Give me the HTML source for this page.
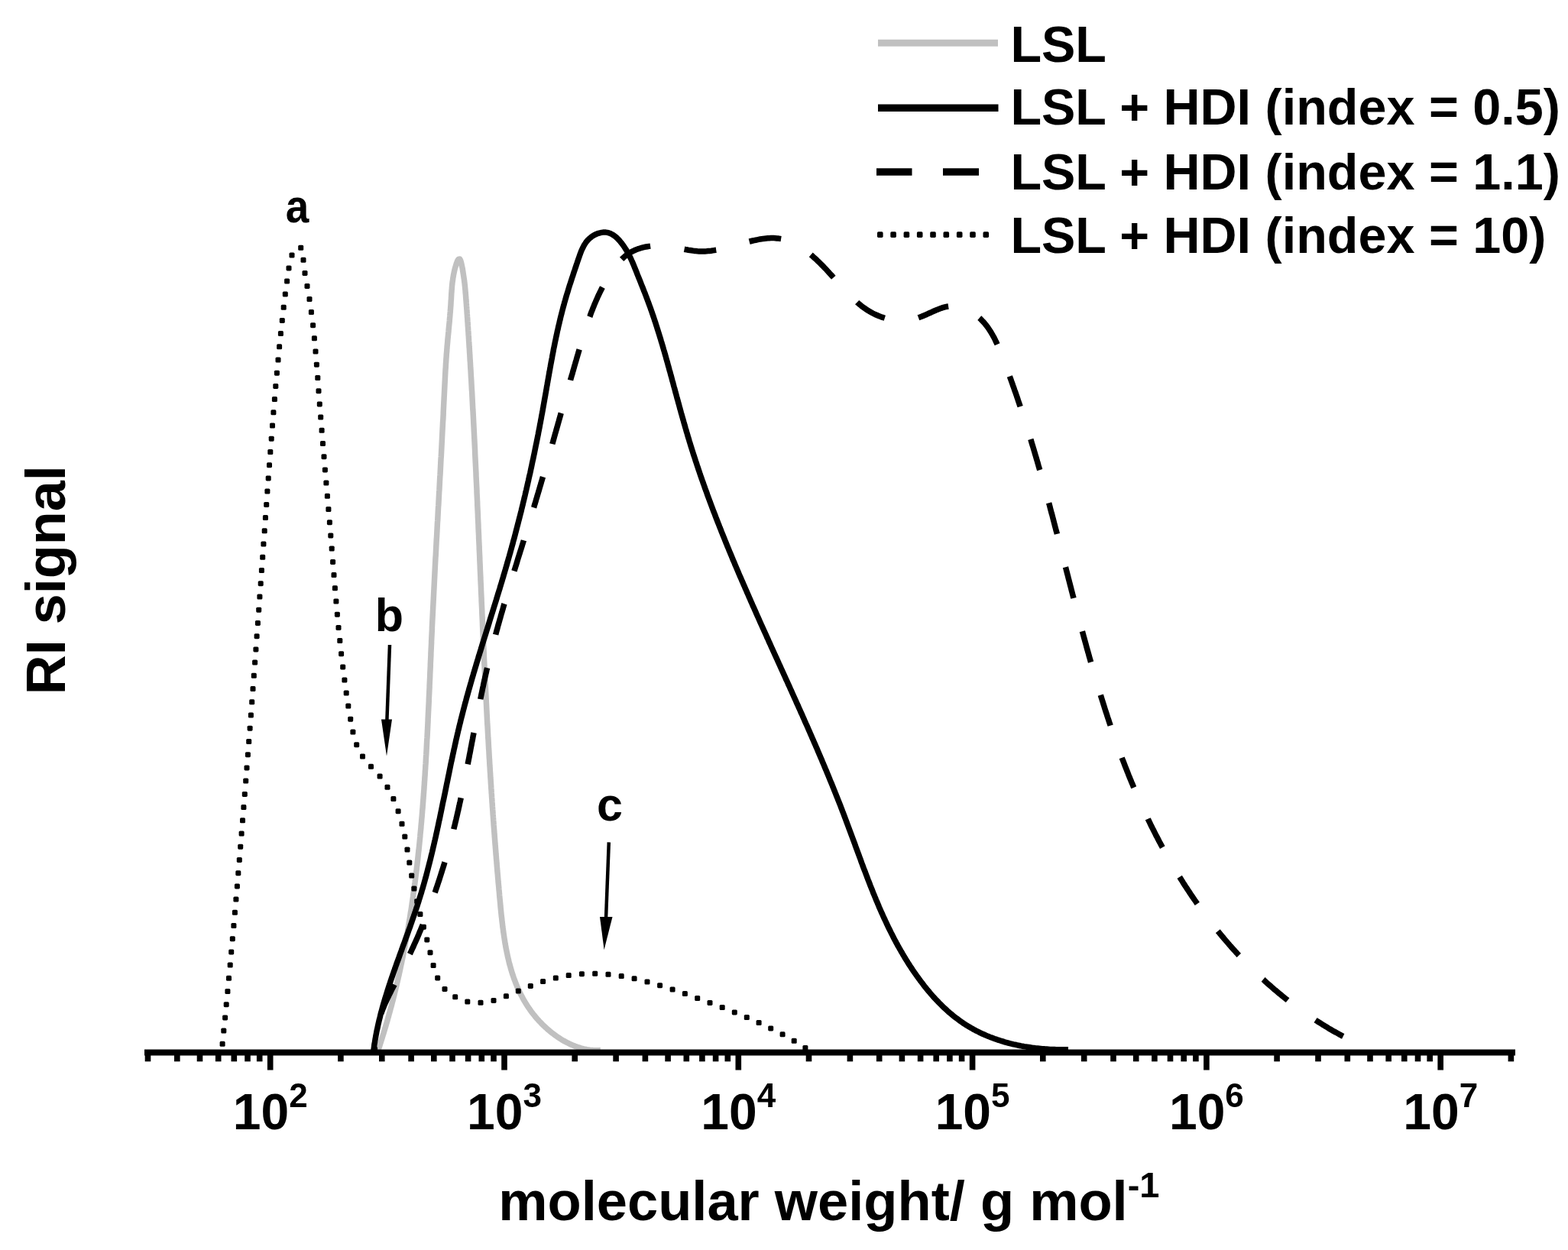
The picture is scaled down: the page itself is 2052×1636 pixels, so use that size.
<!DOCTYPE html>
<html><head><meta charset="utf-8"><title>RI signal vs molecular weight</title>
<style>html,body{margin:0;padding:0;background:#fff;}svg{display:block;}</style>
</head><body>
<svg width="2052" height="1636" viewBox="0 0 2052 1636">
<rect width="2052" height="1636" fill="#fff"/>
<g font-family="'Liberation Sans', Arial, Helvetica, sans-serif" font-weight="bold" fill="#000">
<line x1="1149" y1="56.2" x2="1306" y2="56.2" stroke="#c0c0c0" stroke-width="9"/>
<line x1="1149" y1="141.3" x2="1306.5" y2="141.3" stroke="#000" stroke-width="9.5"/>
<path d="M1147 225 H1193.5 M1234 225 H1281" stroke="#000" stroke-width="9.5"/>
<g><rect x="1148.0" y="303.3" width="7.6" height="7.6" rx="1.6"/><rect x="1165.3" y="303.3" width="7.6" height="7.6" rx="1.6"/><rect x="1182.6" y="303.3" width="7.6" height="7.6" rx="1.6"/><rect x="1199.9" y="303.3" width="7.6" height="7.6" rx="1.6"/><rect x="1217.2" y="303.3" width="7.6" height="7.6" rx="1.6"/><rect x="1234.5" y="303.3" width="7.6" height="7.6" rx="1.6"/><rect x="1251.9" y="303.3" width="7.6" height="7.6" rx="1.6"/><rect x="1269.2" y="303.3" width="7.6" height="7.6" rx="1.6"/><rect x="1286.5" y="303.3" width="7.6" height="7.6" rx="1.6"/></g>
<text x="1322.4" y="80.5" font-size="66.5">LSL</text>
<text x="1322.4" y="163" font-size="66.5">LSL + HDI (index = 0.5)</text>
<text x="1322.4" y="247.5" font-size="66.5">LSL + HDI (index = 1.1)</text>
<text x="1322.4" y="330.5" font-size="66.5">LSL + HDI (index = 10)</text>
<g fill="none" stroke-linejoin="round">
<path d="M494.1 1377.1 L494.7 1375.2 495.3 1373.3 495.9 1371.4 496.6 1369.5 497.2 1367.6 497.8 1365.7 498.4 1363.8 499.0 1361.9 499.6 1360.0 500.2 1358.1 500.8 1356.2 501.4 1354.2 502.0 1352.3 502.6 1350.4 503.1 1348.5 503.7 1346.6 504.3 1344.7 504.9 1342.7 505.4 1340.8 506.0 1338.9 506.5 1337.0 507.1 1335.1 507.6 1333.1 508.2 1331.2 508.7 1329.3 509.2 1327.4 509.8 1325.4 510.3 1323.5 510.8 1321.6 511.3 1319.6 511.9 1317.7 512.4 1315.8 512.9 1313.8 513.4 1311.9 513.9 1310.0 514.4 1308.0 514.9 1306.1 515.4 1304.1 515.9 1302.2 516.3 1300.2 516.8 1298.3 517.3 1296.4 517.8 1294.4 518.2 1292.5 518.7 1290.5 519.2 1288.6 519.6 1286.6 520.1 1284.7 520.5 1282.7 521.0 1280.8 521.4 1278.8 521.9 1276.9 522.3 1274.9 522.7 1273.0 523.2 1271.0 523.6 1269.1 524.0 1267.1 524.4 1265.2 524.8 1263.2 525.3 1261.2 525.7 1259.3 526.1 1257.3 526.5 1255.4 526.9 1253.4 527.3 1251.4 527.7 1249.5 528.1 1247.5 528.4 1245.5 528.8 1243.6 529.2 1241.6 529.6 1239.7 530.0 1237.7 530.3 1235.7 530.7 1233.8 531.1 1231.8 531.4 1229.8 531.8 1227.9 532.1 1225.9 532.5 1223.9 532.9 1221.9 533.2 1220.0 533.5 1218.0 533.9 1216.0 534.2 1214.1 534.6 1212.1 534.9 1210.1 535.2 1208.1 535.5 1206.2 535.9 1204.2 536.2 1202.2 536.5 1200.2 536.8 1198.3 537.1 1196.3 537.4 1194.3 537.8 1192.3 538.1 1190.4 538.4 1188.4 538.7 1186.4 539.0 1184.4 539.2 1182.4 539.5 1180.5 539.8 1178.5 540.1 1176.5 540.4 1174.5 540.7 1172.5 540.9 1170.6 541.2 1168.6 541.5 1166.6 541.8 1164.6 542.0 1162.6 542.3 1160.6 542.6 1158.7 542.8 1156.7 543.1 1154.7 543.3 1152.7 543.6 1150.7 543.8 1148.7 544.1 1146.7 544.3 1144.8 544.6 1142.8 544.8 1140.8 545.1 1138.8 545.3 1136.8 545.5 1134.8 545.8 1132.8 546.0 1130.8 546.2 1128.9 546.4 1126.9 546.7 1124.9 546.9 1122.9 547.1 1120.9 547.3 1118.9 547.5 1116.9 547.7 1114.9 548.0 1112.9 548.2 1111.0 548.4 1109.0 548.6 1107.0 548.8 1105.0 549.0 1103.0 549.2 1101.0 549.4 1099.0 549.6 1097.0 549.8 1095.0 549.9 1093.0 550.1 1091.0 550.3 1089.0 550.5 1087.1 550.7 1085.1 550.9 1083.1 551.0 1081.1 551.2 1079.1 551.4 1077.1 551.6 1075.1 551.7 1073.1 551.9 1071.1 552.1 1069.1 552.3 1067.1 552.4 1065.1 552.6 1063.1 552.7 1061.1 552.9 1059.1 553.1 1057.1 553.2 1055.2 553.4 1053.2 553.5 1051.2 553.7 1049.2 553.8 1047.2 554.0 1045.2 554.1 1043.2 554.3 1041.2 554.4 1039.2 554.6 1037.2 554.7 1035.2 554.9 1033.2 555.0 1031.2 555.1 1029.2 555.3 1027.2 555.4 1025.2 555.5 1023.2 555.7 1021.2 555.8 1019.2 555.9 1017.2 556.1 1015.2 556.2 1013.2 556.3 1011.2 556.4 1009.2 556.6 1007.2 556.7 1005.2 556.8 1003.3 556.9 1001.3 557.1 999.3 557.2 997.3 557.3 995.3 557.4 993.3 557.5 991.3 557.6 989.3 557.8 987.3 557.9 985.3 558.0 983.3 558.1 981.3 558.2 979.3 558.3 977.3 558.4 975.3 558.5 973.3 558.6 971.3 558.7 969.3 558.8 967.3 559.0 965.3 559.1 963.3 559.2 961.3 559.3 959.3 559.4 957.3 559.5 955.3 559.6 953.3 559.7 951.3 559.8 949.3 559.9 947.3 560.0 945.3 560.1 943.3 560.1 941.3 560.2 939.3 560.3 937.3 560.4 935.3 560.5 933.3 560.6 931.3 560.7 929.3 560.8 927.3 560.9 925.3 561.0 923.3 561.1 921.3 561.2 919.3 561.3 917.3 561.3 915.3 561.4 913.3 561.5 911.3 561.6 909.3 561.7 907.3 561.8 905.3 561.9 903.3 562.0 901.3 562.1 899.3 562.1 897.3 562.2 895.3 562.3 893.3 562.4 891.3 562.5 889.3 562.6 887.3 562.7 885.3 562.7 883.3 562.8 881.3 562.9 879.3 563.0 877.3 563.1 875.3 563.2 873.3 563.3 871.3 563.3 869.3 563.4 867.3 563.5 865.3 563.6 863.3 563.7 861.3 563.8 859.3 563.9 857.3 563.9 855.3 564.0 853.3 564.1 851.3 564.2 849.3 564.3 847.3 564.4 845.3 564.5 843.3 564.6 841.3 564.6 839.3 564.7 837.3 564.8 835.3 564.9 833.3 565.0 831.4 565.1 829.4 565.2 827.4 565.3 825.4 565.4 823.4 565.4 821.4 565.5 819.4 565.6 817.4 565.7 815.4 565.8 813.4 565.9 811.4 566.0 809.4 566.1 807.4 566.2 805.4 566.3 803.4 566.4 801.4 566.5 799.4 566.6 797.4 566.7 795.4 566.8 793.4 566.9 791.4 567.0 789.4 567.1 787.4 567.2 785.4 567.3 783.4 567.4 781.4 567.5 779.4 567.6 777.4 567.7 775.4 567.8 773.4 567.9 771.4 568.0 769.4 568.1 767.4 568.2 765.4 568.3 763.4 568.4 761.4 568.5 759.4 568.6 757.4 568.7 755.4 568.8 753.4 568.9 751.4 569.0 749.4 569.1 747.4 569.2 745.4 569.3 743.4 569.4 741.4 569.5 739.4 569.6 737.4 569.7 735.4 569.8 733.4 569.9 731.4 570.0 729.4 570.2 727.4 570.3 725.4 570.4 723.4 570.5 721.4 570.6 719.4 570.7 717.4 570.8 715.4 570.9 713.4 571.0 711.4 571.1 709.4 571.2 707.4 571.3 705.4 571.5 703.4 571.6 701.4 571.7 699.4 571.8 697.4 571.9 695.5 572.0 693.5 572.1 691.5 572.2 689.5 572.3 687.5 572.4 685.5 572.5 683.5 572.7 681.5 572.8 679.5 572.9 677.5 573.0 675.5 573.1 673.5 573.2 671.5 573.3 669.5 573.4 667.5 573.5 665.5 573.6 663.5 573.8 661.5 573.9 659.5 574.0 657.5 574.1 655.5 574.2 653.5 574.3 651.5 574.4 649.5 574.5 647.5 574.6 645.5 574.7 643.5 574.9 641.5 575.0 639.5 575.1 637.5 575.2 635.5 575.3 633.5 575.4 631.5 575.5 629.5 575.6 627.5 575.7 625.5 575.8 623.5 576.0 621.5 576.1 619.5 576.2 617.5 576.3 615.5 576.4 613.5 576.5 611.5 576.6 609.5 576.7 607.5 576.8 605.5 576.9 603.5 577.0 601.5 577.1 599.5 577.3 597.5 577.4 595.5 577.5 593.5 577.6 591.5 577.7 589.5 577.8 587.6 577.9 585.6 578.0 583.6 578.1 581.6 578.2 579.6 578.3 577.6 578.4 575.6 578.5 573.6 578.6 571.6 578.7 569.6 578.8 567.6 578.9 565.6 579.0 563.6 579.1 561.6 579.2 559.6 579.3 557.6 579.4 555.6 579.5 553.6 579.6 551.6 579.8 549.6 579.9 547.6 580.0 545.6 580.1 543.6 580.2 541.6 580.2 539.6 580.3 537.6 580.4 535.6 580.5 533.6 580.6 531.6 580.7 529.6 580.8 527.6 580.9 525.6 581.0 523.6 581.1 521.6 581.2 519.6 581.3 517.6 581.4 515.6 581.5 513.6 581.6 511.6 581.7 509.6 581.8 507.6 581.9 505.6 582.0 503.6 582.1 501.6 582.2 499.6 582.3 497.6 582.4 495.6 582.5 493.6 582.6 491.6 582.7 489.6 582.8 487.6 582.9 485.6 583.0 483.6 583.2 481.6 583.3 479.6 583.4 477.6 583.5 475.6 583.7 473.6 583.8 471.6 583.9 469.6 584.1 467.6 584.2 465.7 584.3 463.7 584.5 461.7 584.7 459.7 584.8 457.7 585.0 455.7 585.1 453.7 585.3 451.7 585.5 449.7 585.7 447.7 585.8 445.7 586.0 443.7 586.2 441.7 586.4 439.7 586.6 437.7 586.8 435.7 587.0 433.8 587.1 431.8 587.3 429.8 587.5 427.8 587.7 425.8 587.9 423.8 588.1 421.8 588.3 419.8 588.4 417.8 588.6 415.8 588.8 413.8 588.9 411.8 589.1 409.8 589.3 407.8 589.4 405.8 589.6 403.9 589.7 401.9 589.9 399.9 590.0 397.9 590.1 395.9 590.2 393.9 590.4 391.9 590.5 389.9 590.6 387.9 590.7 385.9 590.8 383.9 591.0 381.9 591.1 379.9 591.3 377.9 591.4 375.9 591.6 373.9 591.8 371.9 592.0 369.9 592.3 367.9 592.6 366.0 592.8 364.0 593.2 362.0 593.5 360.0 593.9 358.1 594.3 356.1 594.7 354.2 595.2 352.2 595.7 350.3 596.3 348.4 596.9 346.4 597.5 344.5 598.2 342.7 599.0 340.8 600.1 339.2 601.8 339.1 602.7 340.9 603.3 342.8 603.8 344.8 604.2 346.7 604.6 348.7 605.0 350.6 605.4 352.6 605.7 354.6 606.0 356.6 606.3 358.5 606.6 360.5 606.9 362.5 607.2 364.5 607.5 366.5 607.7 368.4 608.0 370.4 608.2 372.4 608.4 374.4 608.6 376.4 608.8 378.4 609.0 380.4 609.1 382.4 609.3 384.4 609.5 386.4 609.6 388.4 609.8 390.4 609.9 392.4 610.1 394.3 610.2 396.3 610.4 398.3 610.5 400.3 610.7 402.3 610.8 404.3 611.0 406.3 611.1 408.3 611.2 410.3 611.4 412.3 611.5 414.3 611.7 416.3 611.8 418.3 611.9 420.3 612.1 422.3 612.2 424.3 612.3 426.3 612.5 428.3 612.6 430.3 612.7 432.3 612.9 434.3 613.0 436.3 613.1 438.3 613.3 440.3 613.4 442.3 613.5 444.3 613.6 446.3 613.8 448.3 613.9 450.3 614.0 452.2 614.1 454.2 614.3 456.2 614.4 458.2 614.5 460.2 614.6 462.2 614.8 464.2 614.9 466.2 615.0 468.2 615.1 470.2 615.2 472.2 615.4 474.2 615.5 476.2 615.6 478.2 615.7 480.2 615.8 482.2 616.0 484.2 616.1 486.2 616.2 488.2 616.3 490.2 616.4 492.2 616.5 494.2 616.7 496.2 616.8 498.2 616.9 500.2 617.0 502.2 617.1 504.2 617.2 506.2 617.3 508.2 617.4 510.2 617.6 512.2 617.7 514.2 617.8 516.2 617.9 518.2 618.0 520.2 618.1 522.2 618.2 524.2 618.3 526.2 618.4 528.2 618.5 530.2 618.6 532.2 618.7 534.2 618.8 536.2 619.0 538.2 619.1 540.2 619.2 542.2 619.3 544.1 619.4 546.1 619.5 548.1 619.6 550.1 619.7 552.1 619.8 554.1 619.9 556.1 620.0 558.1 620.1 560.1 620.2 562.1 620.3 564.1 620.4 566.1 620.5 568.1 620.6 570.1 620.7 572.1 620.8 574.1 620.9 576.1 621.0 578.1 621.1 580.1 621.2 582.1 621.3 584.1 621.4 586.1 621.5 588.1 621.6 590.1 621.6 592.1 621.7 594.1 621.8 596.1 621.9 598.1 622.0 600.1 622.1 602.1 622.2 604.1 622.3 606.1 622.4 608.1 622.5 610.1 622.6 612.1 622.7 614.1 622.8 616.1 622.9 618.1 623.0 620.1 623.0 622.1 623.1 624.1 623.2 626.1 623.3 628.1 623.4 630.1 623.5 632.1 623.6 634.1 623.7 636.1 623.8 638.1 623.9 640.1 624.0 642.1 624.0 644.1 624.1 646.1 624.2 648.1 624.3 650.1 624.4 652.1 624.5 654.1 624.6 656.1 624.7 658.1 624.7 660.1 624.8 662.1 624.9 664.1 625.0 666.1 625.1 668.1 625.2 670.1 625.3 672.1 625.4 674.1 625.4 676.1 625.5 678.1 625.6 680.1 625.7 682.1 625.8 684.1 625.9 686.1 626.0 688.1 626.0 690.1 626.1 692.1 626.2 694.1 626.3 696.1 626.4 698.1 626.5 700.1 626.6 702.1 626.6 704.1 626.7 706.1 626.8 708.1 626.9 710.1 627.0 712.1 627.1 714.1 627.2 716.1 627.2 718.1 627.3 720.1 627.4 722.1 627.5 724.1 627.6 726.1 627.7 728.1 627.8 730.1 627.8 732.1 627.9 734.1 628.0 736.1 628.1 738.1 628.2 740.1 628.3 742.1 628.3 744.1 628.4 746.1 628.5 748.1 628.6 750.1 628.7 752.1 628.8 754.0 628.9 756.0 628.9 758.0 629.0 760.0 629.1 762.0 629.2 764.0 629.3 766.0 629.4 768.0 629.5 770.0 629.5 772.0 629.6 774.0 629.7 776.0 629.8 778.0 629.9 780.0 630.0 782.0 630.1 784.0 630.1 786.0 630.2 788.0 630.3 790.0 630.4 792.0 630.5 794.0 630.6 796.0 630.7 798.0 630.8 800.0 630.8 802.0 630.9 804.0 631.0 806.0 631.1 808.0 631.2 810.0 631.3 812.0 631.4 814.0 631.5 816.0 631.5 818.0 631.6 820.0 631.7 822.0 631.8 824.0 631.9 826.0 632.0 828.0 632.1 830.0 632.2 832.0 632.3 834.0 632.3 836.0 632.4 838.0 632.5 840.0 632.6 842.0 632.7 844.0 632.8 846.0 632.9 848.0 633.0 850.0 633.1 852.0 633.2 854.0 633.3 856.0 633.3 858.0 633.4 860.0 633.5 862.0 633.6 864.0 633.7 866.0 633.8 868.0 633.9 870.0 634.0 872.0 634.1 874.0 634.2 876.0 634.3 878.0 634.4 880.0 634.5 882.0 634.6 884.0 634.7 886.0 634.8 888.0 634.9 890.0 635.0 892.0 635.1 894.0 635.2 896.0 635.3 898.0 635.4 900.0 635.5 902.0 635.6 904.0 635.7 906.0 635.8 908.0 635.9 910.0 636.0 912.0 636.1 914.0 636.2 916.0 636.3 918.0 636.4 920.0 636.5 922.0 636.6 924.0 636.7 926.0 636.8 928.0 636.9 930.0 637.0 932.0 637.1 934.0 637.2 936.0 637.3 938.0 637.4 940.0 637.5 942.0 637.6 943.9 637.7 945.9 637.8 947.9 638.0 949.9 638.1 951.9 638.2 953.9 638.3 955.9 638.4 957.9 638.5 959.9 638.6 961.9 638.7 963.9 638.8 965.9 639.0 967.9 639.1 969.9 639.2 971.9 639.3 973.9 639.4 975.9 639.5 977.9 639.6 979.9 639.8 981.9 639.9 983.9 640.0 985.9 640.1 987.9 640.2 989.9 640.3 991.9 640.5 993.9 640.6 995.9 640.7 997.9 640.8 999.9 640.9 1001.9 641.1 1003.9 641.2 1005.9 641.3 1007.9 641.4 1009.9 641.6 1011.9 641.7 1013.9 641.8 1015.9 641.9 1017.9 642.1 1019.9 642.2 1021.9 642.3 1023.9 642.4 1025.9 642.6 1027.8 642.7 1029.8 642.8 1031.8 643.0 1033.8 643.1 1035.8 643.2 1037.8 643.4 1039.8 643.5 1041.8 643.6 1043.8 643.8 1045.8 643.9 1047.8 644.0 1049.8 644.2 1051.8 644.3 1053.8 644.4 1055.8 644.6 1057.8 644.7 1059.8 644.9 1061.8 645.0 1063.8 645.1 1065.8 645.3 1067.8 645.4 1069.8 645.6 1071.8 645.7 1073.8 645.9 1075.8 646.0 1077.8 646.1 1079.8 646.3 1081.8 646.4 1083.7 646.6 1085.7 646.7 1087.7 646.9 1089.7 647.0 1091.7 647.2 1093.7 647.3 1095.7 647.5 1097.7 647.6 1099.7 647.8 1101.7 647.9 1103.7 648.1 1105.7 648.3 1107.7 648.4 1109.7 648.6 1111.7 648.7 1113.7 648.9 1115.7 649.0 1117.7 649.2 1119.7 649.4 1121.7 649.5 1123.7 649.7 1125.6 649.9 1127.6 650.0 1129.6 650.2 1131.6 650.3 1133.6 650.5 1135.6 650.7 1137.6 650.8 1139.6 651.0 1141.6 651.2 1143.6 651.4 1145.6 651.5 1147.6 651.7 1149.6 651.9 1151.6 652.0 1153.6 652.2 1155.6 652.4 1157.5 652.6 1159.5 652.8 1161.5 652.9 1163.5 653.1 1165.5 653.3 1167.5 653.5 1169.5 653.6 1171.5 653.8 1173.5 654.0 1175.5 654.2 1177.5 654.4 1179.5 654.6 1181.5 654.8 1183.5 654.9 1185.4 655.1 1187.4 655.3 1189.4 655.5 1191.4 655.7 1193.4 655.9 1195.4 656.1 1197.4 656.3 1199.4 656.6 1201.4 656.8 1203.4 657.0 1205.4 657.2 1207.3 657.5 1209.3 657.7 1211.3 657.9 1213.3 658.2 1215.3 658.5 1217.3 658.7 1219.3 659.0 1221.2 659.3 1223.2 659.6 1225.2 659.9 1227.2 660.2 1229.2 660.5 1231.1 660.8 1233.1 661.1 1235.1 661.5 1237.0 661.8 1239.0 662.2 1241.0 662.6 1243.0 663.0 1244.9 663.4 1246.9 663.8 1248.8 664.2 1250.8 664.6 1252.7 665.1 1254.7 665.6 1256.6 666.0 1258.6 666.5 1260.5 667.0 1262.5 667.6 1264.4 668.1 1266.3 668.6 1268.2 669.2 1270.2 669.8 1272.1 670.4 1274.0 671.0 1275.9 671.7 1277.8 672.3 1279.7 673.0 1281.6 673.7 1283.4 674.4 1285.3 675.1 1287.2 675.9 1289.0 676.6 1290.9 677.4 1292.7 678.2 1294.5 679.1 1296.4 679.9 1298.2 680.8 1300.0 681.7 1301.8 682.6 1303.5 683.6 1305.3 684.5 1307.1 685.5 1308.8 686.5 1310.5 687.5 1312.3 688.6 1314.0 689.6 1315.7 690.7 1317.3 691.8 1319.0 693.0 1320.6 694.1 1322.3 695.3 1323.9 696.5 1325.5 697.7 1327.1 699.0 1328.6 700.2 1330.2 701.5 1331.7 702.8 1333.2 704.2 1334.7 705.5 1336.2 706.9 1337.7 708.3 1339.1 709.7 1340.6 711.1 1342.0 712.5 1343.3 714.0 1344.7 715.5 1346.0 717.0 1347.4 718.5 1348.7 720.0 1350.0 721.6 1351.2 723.2 1352.4 724.8 1353.7 726.4 1354.8 728.0 1356.0 729.6 1357.1 731.3 1358.3 733.0 1359.3 734.7 1360.4 736.4 1361.4 738.1 1362.4 739.9 1363.4 741.7 1364.3 743.4 1365.2 745.2 1366.1 747.1 1367.0 748.9 1367.8 750.7 1368.5 752.6 1369.3 754.5 1369.9 756.4 1370.6 758.3 1371.2 760.2 1371.8 762.1 1372.3 764.1 1372.8 766.0 1373.2 768.0 1373.6 770.0 1373.9 771.9 1374.2 773.9 1374.4 775.9 1374.6 777.9 1374.7 779.9 1374.8 781.9 1374.8 783.9 1374.7 785.9 1374.6" stroke="#c0c0c0" stroke-width="7.5"/>
<path d="M488.8 1375.9 L489.0 1373.9 489.3 1371.9 489.6 1369.9 489.8 1367.9 490.1 1365.9 490.5 1364.0 490.8 1362.0 491.1 1360.0 491.5 1358.0 491.8 1356.1 492.2 1354.1 492.6 1352.1 492.9 1350.2 493.3 1348.2 493.8 1346.3 494.2 1344.3 494.6 1342.3 495.0 1340.4 495.5 1338.4 495.9 1336.5 496.4 1334.5 496.9 1332.6 497.4 1330.7 497.8 1328.7 498.3 1326.8 498.8 1324.8 499.4 1322.9 499.9 1321.0 500.4 1319.0 500.9 1317.1 501.5 1315.2 502.0 1313.3 502.6 1311.3 503.2 1309.4 503.7 1307.5 504.3 1305.6 504.9 1303.7 505.5 1301.8 506.1 1299.8 506.7 1297.9 507.3 1296.0 507.9 1294.1 508.5 1292.2 509.1 1290.3 509.7 1288.4 510.4 1286.5 511.0 1284.6 511.6 1282.7 512.3 1280.8 512.9 1278.9 513.6 1277.0 514.2 1275.1 514.9 1273.2 515.5 1271.3 516.2 1269.5 516.9 1267.6 517.5 1265.7 518.2 1263.8 518.9 1261.9 519.5 1260.0 520.2 1258.1 520.9 1256.3 521.6 1254.4 522.3 1252.5 522.9 1250.6 523.6 1248.7 524.3 1246.8 525.0 1245.0 525.7 1243.1 526.3 1241.2 527.0 1239.3 527.7 1237.4 528.4 1235.6 529.1 1233.7 529.8 1231.8 530.5 1229.9 531.1 1228.0 531.8 1226.2 532.5 1224.3 533.2 1222.4 533.9 1220.5 534.5 1218.6 535.2 1216.7 535.9 1214.9 536.6 1213.0 537.2 1211.1 537.9 1209.2 538.6 1207.3 539.2 1205.4 539.9 1203.5 540.5 1201.6 541.2 1199.7 541.8 1197.9 542.5 1196.0 543.1 1194.1 543.8 1192.2 544.4 1190.3 545.0 1188.4 545.7 1186.5 546.3 1184.6 546.9 1182.7 547.5 1180.8 548.1 1178.8 548.7 1176.9 549.3 1175.0 549.9 1173.1 550.5 1171.2 551.1 1169.3 551.7 1167.4 552.2 1165.4 552.8 1163.5 553.4 1161.6 553.9 1159.7 554.5 1157.8 555.0 1155.8 555.6 1153.9 556.1 1152.0 556.6 1150.1 557.2 1148.1 557.7 1146.2 558.2 1144.3 558.7 1142.3 559.2 1140.4 559.7 1138.5 560.2 1136.5 560.7 1134.6 561.2 1132.6 561.7 1130.7 562.2 1128.8 562.7 1126.8 563.2 1124.9 563.7 1122.9 564.1 1121.0 564.6 1119.0 565.1 1117.1 565.6 1115.1 566.0 1113.2 566.5 1111.3 566.9 1109.3 567.4 1107.4 567.8 1105.4 568.3 1103.5 568.7 1101.5 569.2 1099.6 569.6 1097.6 570.1 1095.6 570.5 1093.7 570.9 1091.7 571.4 1089.8 571.8 1087.8 572.2 1085.9 572.6 1083.9 573.1 1082.0 573.5 1080.0 573.9 1078.0 574.3 1076.1 574.7 1074.1 575.2 1072.2 575.6 1070.2 576.0 1068.3 576.4 1066.3 576.8 1064.3 577.2 1062.4 577.6 1060.4 578.0 1058.5 578.4 1056.5 578.8 1054.5 579.2 1052.6 579.6 1050.6 580.0 1048.7 580.5 1046.7 580.9 1044.7 581.3 1042.8 581.7 1040.8 582.1 1038.9 582.5 1036.9 582.9 1034.9 583.3 1033.0 583.7 1031.0 584.1 1029.0 584.5 1027.1 584.9 1025.1 585.3 1023.2 585.7 1021.2 586.1 1019.2 586.5 1017.3 586.9 1015.3 587.3 1013.4 587.7 1011.4 588.1 1009.4 588.5 1007.5 588.9 1005.5 589.3 1003.6 589.7 1001.6 590.1 999.6 590.5 997.7 591.0 995.7 591.4 993.8 591.8 991.8 592.2 989.9 592.6 987.9 593.1 985.9 593.5 984.0 593.9 982.0 594.3 980.1 594.8 978.1 595.2 976.2 595.6 974.2 596.1 972.3 596.5 970.3 596.9 968.3 597.4 966.4 597.8 964.4 598.3 962.5 598.7 960.5 599.2 958.6 599.6 956.6 600.1 954.7 600.6 952.8 601.0 950.8 601.5 948.9 602.0 946.9 602.5 945.0 602.9 943.0 603.4 941.1 603.9 939.1 604.4 937.2 604.9 935.3 605.4 933.3 605.9 931.4 606.4 929.4 606.9 927.5 607.4 925.6 607.9 923.6 608.4 921.7 608.9 919.8 609.5 917.8 610.0 915.9 610.5 914.0 611.0 912.0 611.6 910.1 612.1 908.2 612.6 906.3 613.2 904.3 613.7 902.4 614.3 900.5 614.8 898.6 615.4 896.6 615.9 894.7 616.5 892.8 617.0 890.9 617.6 888.9 618.1 887.0 618.7 885.1 619.3 883.2 619.8 881.2 620.4 879.3 621.0 877.4 621.5 875.5 622.1 873.6 622.7 871.7 623.3 869.7 623.8 867.8 624.4 865.9 625.0 864.0 625.6 862.1 626.1 860.2 626.7 858.2 627.3 856.3 627.9 854.4 628.5 852.5 629.1 850.6 629.7 848.7 630.2 846.8 630.8 844.8 631.4 842.9 632.0 841.0 632.6 839.1 633.2 837.2 633.8 835.3 634.4 833.4 635.0 831.5 635.6 829.6 636.2 827.6 636.8 825.7 637.4 823.8 638.0 821.9 638.6 820.0 639.2 818.1 639.8 816.2 640.3 814.3 640.9 812.4 641.5 810.4 642.1 808.5 642.7 806.6 643.3 804.7 643.9 802.8 644.5 800.9 645.1 799.0 645.7 797.1 646.3 795.2 646.9 793.2 647.5 791.3 648.1 789.4 648.7 787.5 649.3 785.6 649.9 783.7 650.4 781.8 651.0 779.9 651.6 777.9 652.2 776.0 652.8 774.1 653.4 772.2 654.0 770.3 654.5 768.4 655.1 766.5 655.7 764.5 656.3 762.6 656.9 760.7 657.4 758.8 658.0 756.9 658.6 755.0 659.1 753.0 659.7 751.1 660.3 749.2 660.8 747.3 661.4 745.4 662.0 743.4 662.5 741.5 663.1 739.6 663.6 737.7 664.2 735.7 664.7 733.8 665.3 731.9 665.8 730.0 666.4 728.0 666.9 726.1 667.5 724.2 668.0 722.3 668.5 720.3 669.1 718.4 669.6 716.5 670.1 714.5 670.7 712.6 671.2 710.7 671.7 708.7 672.2 706.8 672.8 704.9 673.3 702.9 673.8 701.0 674.3 699.1 674.8 697.1 675.3 695.2 675.8 693.3 676.3 691.3 676.8 689.4 677.3 687.5 677.8 685.5 678.3 683.6 678.8 681.6 679.3 679.7 679.8 677.8 680.3 675.8 680.8 673.9 681.3 671.9 681.8 670.0 682.3 668.1 682.7 666.1 683.2 664.2 683.7 662.2 684.2 660.3 684.6 658.3 685.1 656.4 685.6 654.4 686.0 652.5 686.5 650.5 687.0 648.6 687.4 646.7 687.9 644.7 688.3 642.8 688.8 640.8 689.2 638.9 689.7 636.9 690.1 635.0 690.6 633.0 691.0 631.0 691.5 629.1 691.9 627.1 692.3 625.2 692.8 623.2 693.2 621.3 693.7 619.3 694.1 617.4 694.5 615.4 694.9 613.5 695.4 611.5 695.8 609.6 696.2 607.6 696.6 605.6 697.0 603.7 697.5 601.7 697.9 599.8 698.3 597.8 698.7 595.8 699.1 593.9 699.5 591.9 699.9 590.0 700.3 588.0 700.7 586.0 701.1 584.1 701.5 582.1 701.9 580.2 702.3 578.2 702.7 576.2 703.1 574.3 703.5 572.3 703.9 570.3 704.3 568.4 704.6 566.4 705.0 564.5 705.4 562.5 705.8 560.5 706.2 558.6 706.5 556.6 706.9 554.6 707.3 552.7 707.6 550.7 708.0 548.7 708.4 546.8 708.7 544.8 709.1 542.8 709.5 540.8 709.8 538.9 710.2 536.9 710.5 534.9 710.9 533.0 711.2 531.0 711.6 529.0 711.9 527.1 712.3 525.1 712.6 523.1 713.0 521.1 713.3 519.2 713.7 517.2 714.0 515.2 714.4 513.3 714.7 511.3 715.1 509.3 715.4 507.3 715.7 505.4 716.1 503.4 716.4 501.4 716.8 499.5 717.1 497.5 717.5 495.5 717.8 493.5 718.2 491.6 718.5 489.6 718.9 487.6 719.2 485.7 719.6 483.7 719.9 481.7 720.3 479.7 720.6 477.8 721.0 475.8 721.4 473.8 721.7 471.9 722.1 469.9 722.5 467.9 722.8 466.0 723.2 464.0 723.6 462.0 724.0 460.1 724.3 458.1 724.7 456.1 725.1 454.2 725.5 452.2 725.9 450.3 726.3 448.3 726.7 446.3 727.1 444.4 727.5 442.4 727.9 440.5 728.4 438.5 728.8 436.5 729.2 434.6 729.6 432.6 730.1 430.7 730.5 428.7 730.9 426.8 731.4 424.8 731.9 422.9 732.3 420.9 732.8 419.0 733.3 417.0 733.7 415.1 734.2 413.1 734.7 411.2 735.2 409.3 735.7 407.3 736.2 405.4 736.7 403.5 737.2 401.5 737.8 399.6 738.3 397.7 738.8 395.7 739.4 393.8 739.9 391.9 740.5 390.0 741.0 388.0 741.6 386.1 742.2 384.2 742.8 382.3 743.4 380.4 743.9 378.5 744.5 376.5 745.1 374.6 745.7 372.7 746.4 370.8 747.0 368.9 747.6 367.0 748.2 365.1 748.8 363.2 749.5 361.3 750.1 359.4 750.7 357.5 751.3 355.6 752.0 353.7 752.6 351.8 753.3 349.9 753.9 348.0 754.5 346.1 755.2 344.2 755.8 342.3 756.5 340.4 757.1 338.5 757.8 336.7 758.4 334.8 759.1 332.9 759.8 331.0 760.5 329.1 761.3 327.3 762.1 325.5 763.0 323.7 763.9 321.9 764.9 320.1 766.0 318.5 767.1 316.8 768.4 315.3 769.7 313.8 771.1 312.4 772.7 311.1 774.2 309.8 775.9 308.7 777.6 307.7 779.4 306.8 781.3 306.0 783.1 305.3 785.1 304.8 787.0 304.4 789.0 304.1 791.0 304.1 793.0 304.1 795.0 304.4 796.9 304.9 798.8 305.6 800.6 306.5 802.3 307.5 804.0 308.6 805.6 309.9 807.1 311.2 808.5 312.6 809.9 314.0 811.2 315.5 812.5 317.1 813.7 318.6 814.9 320.2 816.1 321.9 817.2 323.5 818.3 325.2 819.4 326.9 820.4 328.6 821.4 330.3 822.4 332.1 823.3 333.9 824.2 335.7 825.1 337.5 825.9 339.3 826.7 341.1 827.6 342.9 828.3 344.8 829.1 346.6 829.9 348.5 830.6 350.3 831.4 352.2 832.1 354.0 832.9 355.9 833.6 357.8 834.3 359.6 835.1 361.5 835.8 363.3 836.6 365.2 837.3 367.0 838.1 368.9 838.8 370.8 839.5 372.6 840.3 374.5 841.0 376.3 841.8 378.2 842.5 380.1 843.2 381.9 844.0 383.8 844.7 385.7 845.4 387.5 846.1 389.4 846.8 391.3 847.5 393.1 848.2 395.0 848.9 396.9 849.6 398.8 850.3 400.7 851.0 402.5 851.6 404.4 852.3 406.3 853.0 408.2 853.6 410.1 854.3 412.0 854.9 413.9 855.6 415.8 856.2 417.7 856.8 419.6 857.5 421.5 858.1 423.4 858.7 425.3 859.3 427.2 859.9 429.1 860.5 431.0 861.1 432.9 861.7 434.8 862.3 436.7 862.9 438.6 863.5 440.6 864.1 442.5 864.7 444.4 865.2 446.3 865.8 448.2 866.4 450.1 867.0 452.1 867.5 454.0 868.1 455.9 868.6 457.8 869.2 459.7 869.8 461.7 870.3 463.6 870.9 465.5 871.4 467.4 871.9 469.4 872.5 471.3 873.0 473.2 873.6 475.1 874.1 477.1 874.6 479.0 875.2 480.9 875.7 482.9 876.2 484.8 876.8 486.7 877.3 488.7 877.8 490.6 878.4 492.5 878.9 494.4 879.4 496.4 879.9 498.3 880.5 500.2 881.0 502.2 881.5 504.1 882.0 506.0 882.6 508.0 883.1 509.9 883.6 511.8 884.1 513.8 884.7 515.7 885.2 517.6 885.7 519.6 886.2 521.5 886.8 523.4 887.3 525.3 887.8 527.3 888.4 529.2 888.9 531.1 889.4 533.1 889.9 535.0 890.5 536.9 891.0 538.9 891.5 540.8 892.1 542.7 892.6 544.6 893.2 546.6 893.7 548.5 894.3 550.4 894.8 552.3 895.4 554.3 895.9 556.2 896.5 558.1 897.0 560.0 897.6 562.0 898.1 563.9 898.7 565.8 899.3 567.7 899.8 569.6 900.4 571.6 901.0 573.5 901.6 575.4 902.1 577.3 902.7 579.2 903.3 581.1 903.9 583.1 904.5 585.0 905.1 586.9 905.7 588.8 906.3 590.7 906.9 592.6 907.5 594.5 908.1 596.4 908.8 598.3 909.4 600.2 910.0 602.1 910.6 604.0 911.3 605.9 911.9 607.8 912.5 609.7 913.2 611.6 913.8 613.5 914.4 615.4 915.1 617.3 915.7 619.2 916.4 621.1 917.0 623.0 917.7 624.9 918.3 626.8 919.0 628.7 919.7 630.5 920.3 632.4 921.0 634.3 921.7 636.2 922.3 638.1 923.0 640.0 923.7 641.9 924.4 643.7 925.1 645.6 925.7 647.5 926.4 649.4 927.1 651.3 927.8 653.1 928.5 655.0 929.2 656.9 929.9 658.8 930.6 660.6 931.3 662.5 932.0 664.4 932.7 666.3 933.4 668.1 934.1 670.0 934.9 671.9 935.6 673.7 936.3 675.6 937.0 677.5 937.7 679.3 938.5 681.2 939.2 683.1 939.9 684.9 940.7 686.8 941.4 688.7 942.1 690.5 942.9 692.4 943.6 694.2 944.3 696.1 945.1 698.0 945.8 699.8 946.6 701.7 947.3 703.5 948.1 705.4 948.8 707.2 949.6 709.1 950.3 711.0 951.1 712.8 951.8 714.7 952.6 716.5 953.4 718.4 954.1 720.2 954.9 722.1 955.7 723.9 956.4 725.8 957.2 727.6 958.0 729.5 958.7 731.3 959.5 733.2 960.3 735.0 961.1 736.8 961.8 738.7 962.6 740.5 963.4 742.4 964.2 744.2 965.0 746.1 965.8 747.9 966.5 749.7 967.3 751.6 968.1 753.4 968.9 755.3 969.7 757.1 970.5 758.9 971.3 760.8 972.1 762.6 972.9 764.4 973.7 766.3 974.5 768.1 975.3 770.0 976.1 771.8 976.9 773.6 977.7 775.5 978.5 777.3 979.3 779.1 980.1 781.0 980.9 782.8 981.7 784.6 982.5 786.5 983.3 788.3 984.1 790.1 984.9 791.9 985.7 793.8 986.6 795.6 987.4 797.4 988.2 799.3 989.0 801.1 989.8 802.9 990.6 804.7 991.4 806.6 992.3 808.4 993.1 810.2 993.9 812.1 994.7 813.9 995.5 815.7 996.3 817.5 997.2 819.4 998.0 821.2 998.8 823.0 999.6 824.8 1000.5 826.7 1001.3 828.5 1002.1 830.3 1002.9 832.1 1003.7 834.0 1004.6 835.8 1005.4 837.6 1006.2 839.4 1007.0 841.3 1007.9 843.1 1008.7 844.9 1009.5 846.7 1010.3 848.6 1011.2 850.4 1012.0 852.2 1012.8 854.0 1013.6 855.8 1014.5 857.7 1015.3 859.5 1016.1 861.3 1017.0 863.1 1017.8 865.0 1018.6 866.8 1019.4 868.6 1020.3 870.4 1021.1 872.3 1021.9 874.1 1022.7 875.9 1023.6 877.7 1024.4 879.5 1025.2 881.4 1026.1 883.2 1026.9 885.0 1027.7 886.8 1028.5 888.7 1029.4 890.5 1030.2 892.3 1031.0 894.1 1031.8 896.0 1032.7 897.8 1033.5 899.6 1034.3 901.4 1035.1 903.2 1036.0 905.1 1036.8 906.9 1037.6 908.7 1038.4 910.5 1039.2 912.4 1040.1 914.2 1040.9 916.0 1041.7 917.8 1042.5 919.7 1043.3 921.5 1044.2 923.3 1045.0 925.2 1045.8 927.0 1046.6 928.8 1047.4 930.6 1048.2 932.5 1049.1 934.3 1049.9 936.1 1050.7 937.9 1051.5 939.8 1052.3 941.6 1053.1 943.4 1053.9 945.3 1054.7 947.1 1055.6 948.9 1056.4 950.8 1057.2 952.6 1058.0 954.4 1058.8 956.3 1059.6 958.1 1060.4 959.9 1061.2 961.8 1062.0 963.6 1062.8 965.4 1063.6 967.3 1064.4 969.1 1065.2 970.9 1066.0 972.8 1066.8 974.6 1067.6 976.4 1068.4 978.3 1069.2 980.1 1070.0 982.0 1070.7 983.8 1071.5 985.6 1072.3 987.5 1073.1 989.3 1073.9 991.2 1074.7 993.0 1075.5 994.8 1076.2 996.7 1077.0 998.5 1077.8 1000.4 1078.6 1002.2 1079.3 1004.1 1080.1 1005.9 1080.9 1007.8 1081.7 1009.6 1082.4 1011.5 1083.2 1013.3 1084.0 1015.2 1084.7 1017.0 1085.5 1018.9 1086.2 1020.7 1087.0 1022.6 1087.8 1024.4 1088.5 1026.3 1089.3 1028.1 1090.0 1030.0 1090.8 1031.8 1091.5 1033.7 1092.3 1035.5 1093.0 1037.4 1093.8 1039.3 1094.5 1041.1 1095.2 1043.0 1096.0 1044.8 1096.7 1046.7 1097.5 1048.6 1098.2 1050.4 1098.9 1052.3 1099.7 1054.1 1100.4 1056.0 1101.1 1057.9 1101.8 1059.7 1102.5 1061.6 1103.3 1063.5 1104.0 1065.3 1104.7 1067.2 1105.4 1069.1 1106.1 1071.0 1106.8 1072.8 1107.5 1074.7 1108.2 1076.6 1108.9 1078.5 1109.6 1080.3 1110.3 1082.2 1111.0 1084.1 1111.7 1086.0 1112.4 1087.8 1113.1 1089.7 1113.8 1091.6 1114.5 1093.5 1115.2 1095.3 1115.9 1097.2 1116.6 1099.1 1117.3 1101.0 1118.0 1102.9 1118.7 1104.7 1119.3 1106.6 1120.0 1108.5 1120.7 1110.4 1121.4 1112.3 1122.1 1114.1 1122.8 1116.0 1123.5 1117.9 1124.2 1119.8 1124.9 1121.7 1125.6 1123.5 1126.3 1125.4 1126.9 1127.3 1127.6 1129.2 1128.3 1131.0 1129.0 1132.9 1129.7 1134.8 1130.4 1136.7 1131.1 1138.5 1131.9 1140.4 1132.6 1142.3 1133.3 1144.2 1134.0 1146.0 1134.7 1147.9 1135.4 1149.8 1136.1 1151.6 1136.9 1153.5 1137.6 1155.4 1138.3 1157.2 1139.0 1159.1 1139.8 1161.0 1140.5 1162.8 1141.3 1164.7 1142.0 1166.5 1142.7 1168.4 1143.5 1170.2 1144.3 1172.1 1145.0 1173.9 1145.8 1175.8 1146.5 1177.6 1147.3 1179.5 1148.1 1181.3 1148.9 1183.2 1149.7 1185.0 1150.4 1186.9 1151.2 1188.7 1152.0 1190.5 1152.8 1192.4 1153.6 1194.2 1154.5 1196.0 1155.3 1197.9 1156.1 1199.7 1156.9 1201.5 1157.8 1203.3 1158.6 1205.1 1159.5 1206.9 1160.3 1208.8 1161.2 1210.6 1162.0 1212.4 1162.9 1214.2 1163.8 1216.0 1164.7 1217.8 1165.6 1219.6 1166.5 1221.4 1167.4 1223.1 1168.3 1224.9 1169.2 1226.7 1170.1 1228.5 1171.0 1230.2 1172.0 1232.0 1172.9 1233.8 1173.9 1235.5 1174.8 1237.3 1175.8 1239.0 1176.8 1240.8 1177.8 1242.5 1178.8 1244.3 1179.8 1246.0 1180.8 1247.7 1181.8 1249.5 1182.8 1251.2 1183.8 1252.9 1184.9 1254.6 1185.9 1256.3 1187.0 1258.0 1188.0 1259.7 1189.1 1261.4 1190.2 1263.1 1191.3 1264.8 1192.4 1266.4 1193.5 1268.1 1194.6 1269.8 1195.7 1271.4 1196.9 1273.1 1198.0 1274.7 1199.2 1276.4 1200.3 1278.0 1201.5 1279.6 1202.7 1281.2 1203.9 1282.8 1205.0 1284.4 1206.3 1286.0 1207.5 1287.6 1208.7 1289.2 1209.9 1290.8 1211.2 1292.4 1212.4 1293.9 1213.7 1295.5 1215.0 1297.0 1216.3 1298.5 1217.6 1300.1 1218.9 1301.6 1220.2 1303.1 1221.5 1304.6 1222.9 1306.1 1224.2 1307.5 1225.6 1309.0 1227.0 1310.4 1228.4 1311.9 1229.8 1313.3 1231.2 1314.7 1232.6 1316.1 1234.0 1317.5 1235.5 1318.9 1237.0 1320.3 1238.4 1321.6 1239.9 1323.0 1241.4 1324.3 1242.9 1325.6 1244.5 1326.9 1246.0 1328.2 1247.5 1329.5 1249.1 1330.7 1250.7 1331.9 1252.3 1333.1 1253.9 1334.3 1255.5 1335.5 1257.1 1336.7 1258.8 1337.8 1260.4 1339.0 1262.1 1340.1 1263.8 1341.2 1265.5 1342.2 1267.2 1343.3 1268.9 1344.3 1270.6 1345.3 1272.4 1346.3 1274.1 1347.3 1275.9 1348.2 1277.6 1349.1 1279.4 1350.0 1281.2 1350.9 1283.0 1351.8 1284.8 1352.7 1286.7 1353.5 1288.5 1354.3 1290.3 1355.1 1292.2 1355.9 1294.0 1356.6 1295.9 1357.4 1297.7 1358.1 1299.6 1358.8 1301.5 1359.5 1303.4 1360.1 1305.3 1360.8 1307.2 1361.4 1309.1 1362.0 1311.0 1362.6 1312.9 1363.2 1314.8 1363.8 1316.8 1364.3 1318.7 1364.8 1320.6 1365.4 1322.6 1365.9 1324.5 1366.3 1326.5 1366.8 1328.4 1367.2 1330.4 1367.7 1332.3 1368.1 1334.3 1368.5 1336.2 1368.9 1338.2 1369.2 1340.2 1369.6 1342.2 1369.9 1344.1 1370.2 1346.1 1370.5 1348.1 1370.8 1350.1 1371.1 1352.1 1371.4 1354.0 1371.6 1356.0 1371.9 1358.0 1372.1 1360.0 1372.3 1362.0 1372.5 1364.0 1372.7 1366.0 1372.8 1368.0 1373.0 1370.0 1373.1 1372.0 1373.2 1374.0 1373.4 1376.0 1373.5 1378.0 1373.5 1380.0 1373.6 1382.0 1373.7 1384.0 1373.7 1386.0 1373.7 1388.0 1373.8 1390.0 1373.8 1392.0 1373.8 1394.0 1373.8 1396.0 1373.7 1398.0 1373.7" stroke="#000" stroke-width="7.5"/>
<path d="M490.4 1376.5 L490.4 1374.5 490.3 1372.5 490.3 1370.5 490.3 1368.5 490.4 1366.5 490.5 1364.5 490.6 1362.6 490.8 1360.6 491.0 1358.6 491.2 1356.6 491.5 1354.6 491.8 1352.6 492.1 1350.6 492.5 1348.7 492.9 1346.7 493.3 1344.8 493.8 1342.8 494.3 1340.9 494.8 1338.9 495.3 1337.0 495.9 1335.1 496.5 1333.2 497.1 1331.3 497.7 1329.4 498.4 1327.5 499.1 1325.6 499.8 1323.7 500.5 1321.9 501.2 1320.0 502.0 1318.2 502.7 1316.3 503.5 1314.5 504.3 1312.6 505.2 1310.8 506.0 1309.0 506.8 1307.2 507.7 1305.4 508.6 1303.6 509.4 1301.8 510.3 1300.0 511.2 1298.2 512.1 1296.4 513.0 1294.6 513.9 1292.8 514.9 1291.1 515.8 1289.3 516.7 1287.5 517.6 1285.7 518.6 1284.0 519.5 1282.2 520.4 1280.4 521.4 1278.7 522.3 1276.9 523.2 1275.1 524.1 1273.3 525.0 1271.6 526.0 1269.8 526.9 1268.0 527.8 1266.2 528.7 1264.4 529.6 1262.6 530.5 1260.8 531.3 1259.0 532.2 1257.2 533.1 1255.4 534.0 1253.6 534.8 1251.8 535.7 1250.0 536.6 1248.2 537.4 1246.4 538.3 1244.6 539.1 1242.8 539.9 1241.0 540.8 1239.2 541.6 1237.3 542.4 1235.5 543.2 1233.7 544.1 1231.9 544.9 1230.0 545.7 1228.2 546.5 1226.4 547.3 1224.5 548.1 1222.7 548.8 1220.9 549.6 1219.0 550.4 1217.2 551.2 1215.3 551.9 1213.5 552.7 1211.6 553.5 1209.8 554.2 1207.9 555.0 1206.1 555.7 1204.2 556.5 1202.4 557.2 1200.5 557.9 1198.6 558.7 1196.8 559.4 1194.9 560.1 1193.0 560.8 1191.2 561.5 1189.3 562.2 1187.4 562.9 1185.5 563.6 1183.7 564.3 1181.8 565.0 1179.9 565.7 1178.0 566.4 1176.2 567.0 1174.3 567.7 1172.4 568.4 1170.5 569.0 1168.6 569.7 1166.7 570.3 1164.8 571.0 1162.9 571.6 1161.0 572.3 1159.1 572.9 1157.2 573.5 1155.3 574.2 1153.4 574.8 1151.5 575.4 1149.6 576.0 1147.7 576.6 1145.8 577.2 1143.9 577.8 1142.0 578.4 1140.1 579.0 1138.2 579.6 1136.3 580.2 1134.4 580.8 1132.5 581.4 1130.5 581.9 1128.6 582.5 1126.7 583.1 1124.8 583.6 1122.9 584.2 1120.9 584.7 1119.0 585.3 1117.1 585.8 1115.2 586.4 1113.2 586.9 1111.3 587.5 1109.4 588.0 1107.5 588.5 1105.5 589.0 1103.6 589.5 1101.7 590.1 1099.7 590.6 1097.8 591.1 1095.9 591.6 1093.9 592.1 1092.0 592.6 1090.1 593.1 1088.1 593.6 1086.2 594.0 1084.2 594.5 1082.3 595.0 1080.3 595.5 1078.4 595.9 1076.5 596.4 1074.5 596.9 1072.6 597.3 1070.6 597.8 1068.7 598.2 1066.7 598.7 1064.8 599.1 1062.8 599.6 1060.9 600.0 1058.9 600.4 1057.0 600.9 1055.0 601.3 1053.1 601.7 1051.1 602.2 1049.1 602.6 1047.2 603.0 1045.2 603.4 1043.3 603.8 1041.3 604.3 1039.4 604.7 1037.4 605.1 1035.4 605.5 1033.5 605.9 1031.5 606.3 1029.6 606.7 1027.6 607.1 1025.6 607.5 1023.7 607.9 1021.7 608.3 1019.8 608.7 1017.8 609.1 1015.8 609.5 1013.9 609.8 1011.9 610.2 1010.0 610.6 1008.0 611.0 1006.0 611.4 1004.1 611.8 1002.1 612.2 1000.1 612.5 998.2 612.9 996.2 613.3 994.2 613.7 992.3 614.1 990.3 614.4 988.3 614.8 986.4 615.2 984.4 615.6 982.5 615.9 980.5 616.3 978.5 616.7 976.6 617.1 974.6 617.4 972.6 617.8 970.7 618.2 968.7 618.6 966.7 618.9 964.8 619.3 962.8 619.7 960.8 620.1 958.9 620.4 956.9 620.8 954.9 621.2 953.0 621.6 951.0 621.9 949.0 622.3 947.1 622.7 945.1 623.1 943.2 623.5 941.2 623.9 939.2 624.2 937.3 624.6 935.3 625.0 933.3 625.4 931.4 625.8 929.4 626.2 927.4 626.6 925.5 627.0 923.5 627.4 921.6 627.8 919.6 628.2 917.6 628.6 915.7 629.0 913.7 629.4 911.8 629.8 909.8 630.2 907.8 630.6 905.9 631.0 903.9 631.4 902.0 631.8 900.0 632.3 898.1 632.7 896.1 633.1 894.1 633.5 892.2 634.0 890.2 634.4 888.3 634.8 886.3 635.3 884.4 635.7 882.4 636.2 880.5 636.6 878.5 637.0 876.6 637.5 874.6 638.0 872.7 638.4 870.7 638.9 868.8 639.3 866.8 639.8 864.9 640.3 863.0 640.8 861.0 641.2 859.1 641.7 857.1 642.2 855.2 642.7 853.2 643.2 851.3 643.7 849.4 644.2 847.4 644.7 845.5 645.2 843.6 645.7 841.6 646.2 839.7 646.7 837.7 647.2 835.8 647.7 833.9 648.3 831.9 648.8 830.0 649.3 828.1 649.8 826.2 650.4 824.2 650.9 822.3 651.4 820.4 651.9 818.4 652.5 816.5 653.0 814.6 653.6 812.7 654.1 810.7 654.7 808.8 655.2 806.9 655.7 805.0 656.3 803.0 656.9 801.1 657.4 799.2 658.0 797.3 658.5 795.3 659.1 793.4 659.6 791.5 660.2 789.6 660.8 787.7 661.3 785.7 661.9 783.8 662.5 781.9 663.0 780.0 663.6 778.1 664.2 776.2 664.8 774.2 665.3 772.3 665.9 770.4 666.5 768.5 667.1 766.6 667.7 764.7 668.2 762.8 668.8 760.8 669.4 758.9 670.0 757.0 670.6 755.1 671.2 753.2 671.7 751.3 672.3 749.4 672.9 747.4 673.5 745.5 674.1 743.6 674.7 741.7 675.3 739.8 675.9 737.9 676.5 736.0 677.0 734.1 677.6 732.2 678.2 730.2 678.8 728.3 679.4 726.4 680.0 724.5 680.6 722.6 681.2 720.7 681.8 718.8 682.4 716.9 683.0 715.0 683.6 713.0 684.2 711.1 684.8 709.2 685.4 707.3 685.9 705.4 686.5 703.5 687.1 701.6 687.7 699.7 688.3 697.8 688.9 695.8 689.5 693.9 690.1 692.0 690.7 690.1 691.3 688.2 691.9 686.3 692.4 684.4 693.0 682.5 693.6 680.5 694.2 678.6 694.8 676.7 695.4 674.8 696.0 672.9 696.5 671.0 697.1 669.1 697.7 667.2 698.3 665.2 698.9 663.3 699.4 661.4 700.0 659.5 700.6 657.6 701.2 655.7 701.7 653.7 702.3 651.8 702.9 649.9 703.4 648.0 704.0 646.1 704.6 644.2 705.2 642.2 705.7 640.3 706.3 638.4 706.8 636.5 707.4 634.6 708.0 632.6 708.5 630.7 709.1 628.8 709.7 626.9 710.2 625.0 710.8 623.0 711.3 621.1 711.9 619.2 712.4 617.3 713.0 615.3 713.6 613.4 714.1 611.5 714.7 609.6 715.2 607.7 715.8 605.7 716.3 603.8 716.9 601.9 717.4 600.0 718.0 598.0 718.5 596.1 719.1 594.2 719.6 592.3 720.2 590.3 720.7 588.4 721.3 586.5 721.8 584.6 722.4 582.6 722.9 580.7 723.5 578.8 724.0 576.9 724.6 574.9 725.1 573.0 725.6 571.1 726.2 569.2 726.7 567.2 727.3 565.3 727.8 563.4 728.4 561.5 728.9 559.5 729.5 557.6 730.0 555.7 730.5 553.8 731.1 551.8 731.6 549.9 732.2 548.0 732.7 546.1 733.3 544.1 733.8 542.2 734.4 540.3 734.9 538.4 735.4 536.4 736.0 534.5 736.5 532.6 737.1 530.7 737.6 528.7 738.2 526.8 738.7 524.9 739.3 523.0 739.8 521.0 740.4 519.1 740.9 517.2 741.5 515.3 742.0 513.3 742.5 511.4 743.1 509.5 743.6 507.6 744.2 505.6 744.7 503.7 745.3 501.8 745.8 499.9 746.4 498.0 746.9 496.0 747.5 494.1 748.0 492.2 748.6 490.3 749.2 488.3 749.7 486.4 750.3 484.5 750.8 482.6 751.4 480.7 751.9 478.7 752.5 476.8 753.0 474.9 753.6 473.0 754.2 471.0 754.7 469.1 755.3 467.2 755.8 465.3 756.4 463.4 757.0 461.4 757.5 459.5 758.1 457.6 758.7 455.7 759.2 453.8 759.8 451.8 760.4 449.9 761.0 448.0 761.5 446.1 762.1 444.2 762.7 442.3 763.3 440.4 763.9 438.4 764.5 436.5 765.1 434.6 765.7 432.7 766.3 430.8 766.9 428.9 767.5 427.0 768.1 425.1 768.8 423.2 769.4 421.3 770.1 419.4 770.7 417.5 771.4 415.6 772.1 413.8 772.7 411.9 773.4 410.0 774.1 408.1 774.9 406.3 775.6 404.4 776.3 402.5 777.1 400.7 777.8 398.8 778.6 397.0 779.4 395.1 780.2 393.3 781.0 391.5 781.8 389.6 782.6 387.8 783.5 386.0 784.3 384.2 785.2 382.4 786.1 380.6 787.0 378.8 787.9 377.0 788.8 375.3 789.8 373.5 790.7 371.8 791.7 370.0 792.7 368.3 793.7 366.5 794.7 364.8 795.8 363.1 796.8 361.4 797.9 359.7 799.0 358.0 800.1 356.4 801.2 354.7 802.4 353.1 803.5 351.4 804.7 349.8 805.9 348.2 807.1 346.7 808.4 345.1 809.7 343.6 811.0 342.1 812.4 340.6 813.8 339.2 815.2 337.8 816.7 336.5 818.2 335.2 819.8 333.9 821.4 332.8 823.1 331.7 824.8 330.6 826.5 329.6 828.3 328.7 830.1 327.8 831.9 327.0 833.8 326.3 835.7 325.6 837.6 325.0 839.5 324.4 841.4 323.9 843.4 323.4 845.3 323.0 847.3 322.7 849.3 322.4 851.3 322.1 853.3 321.9 855.3 321.8 857.3 321.7 859.3 321.6 861.3 321.6 863.3 321.6 865.3 321.7 867.3 321.8 869.3 321.9 871.3 322.1 873.2 322.3 875.2 322.5 877.2 322.8 879.2 323.1 881.2 323.4 883.1 323.8 885.1 324.1 887.1 324.5 889.0 324.9 891.0 325.3 893.0 325.7 894.9 326.1 896.9 326.5 898.8 326.8 900.8 327.2 902.8 327.5 904.8 327.8 906.7 328.1 908.7 328.4 910.7 328.6 912.7 328.8 914.7 328.9 916.7 329.0 918.7 329.0 920.7 329.0 922.7 328.9 924.7 328.8 926.7 328.6 928.7 328.4 930.7 328.2 932.7 327.9 934.6 327.6 936.6 327.3 938.6 327.0 940.5 326.6 942.5 326.2 944.5 325.8 946.4 325.3 948.4 324.8 950.3 324.4 952.2 323.9 954.2 323.4 956.1 322.8 958.0 322.3 960.0 321.8 961.9 321.3 963.8 320.7 965.7 320.2 967.7 319.6 969.6 319.1 971.5 318.6 973.5 318.0 975.4 317.5 977.3 317.0 979.3 316.5 981.2 316.0 983.1 315.5 985.1 315.0 987.0 314.6 989.0 314.2 990.9 313.8 992.9 313.4 994.9 313.0 996.9 312.7 998.8 312.4 1000.8 312.2 1002.8 312.0 1004.8 311.8 1006.8 311.7 1008.8 311.6 1010.8 311.6 1012.8 311.6 1014.8 311.7 1016.8 311.9 1018.8 312.1 1020.8 312.4 1022.7 312.7 1024.7 313.1 1026.6 313.6 1028.6 314.2 1030.5 314.8 1032.3 315.5 1034.2 316.2 1036.0 317.0 1037.9 317.8 1039.7 318.7 1041.4 319.7 1043.2 320.6 1044.9 321.6 1046.6 322.7 1048.3 323.7 1050.0 324.9 1051.6 326.0 1053.2 327.2 1054.8 328.3 1056.4 329.6 1058.0 330.8 1059.6 332.1 1061.1 333.3 1062.6 334.6 1064.1 336.0 1065.6 337.3 1067.1 338.6 1068.6 340.0 1070.0 341.4 1071.5 342.8 1072.9 344.2 1074.3 345.6 1075.7 347.0 1077.1 348.4 1078.5 349.9 1079.9 351.3 1081.3 352.8 1082.6 354.2 1084.0 355.7 1085.3 357.2 1086.7 358.7 1088.0 360.1 1089.4 361.6 1090.7 363.1 1092.0 364.6 1093.4 366.1 1094.7 367.6 1096.0 369.1 1097.3 370.6 1098.7 372.1 1100.0 373.6 1101.3 375.1 1102.7 376.6 1104.0 378.0 1105.4 379.5 1106.7 381.0 1108.1 382.4 1109.5 383.9 1110.9 385.3 1112.3 386.8 1113.7 388.2 1115.1 389.6 1116.5 391.0 1118.0 392.3 1119.5 393.7 1121.0 395.0 1122.5 396.4 1124.0 397.6 1125.5 398.9 1127.1 400.2 1128.7 401.4 1130.3 402.6 1131.9 403.7 1133.6 404.9 1135.3 406.0 1137.0 407.0 1138.7 408.0 1140.4 409.0 1142.2 410.0 1144.0 410.9 1145.8 411.7 1147.6 412.5 1149.4 413.3 1151.3 414.1 1153.2 414.8 1155.1 415.4 1157.0 416.0 1158.9 416.6 1160.8 417.1 1162.8 417.5 1164.7 417.9 1166.7 418.3 1168.7 418.6 1170.7 418.9 1172.7 419.1 1174.7 419.2 1176.6 419.4 1178.6 419.4 1180.6 419.4 1182.6 419.3 1184.6 419.2 1186.6 419.0 1188.6 418.8 1190.6 418.5 1192.6 418.2 1194.5 417.8 1196.5 417.3 1198.4 416.8 1200.3 416.3 1202.2 415.6 1204.1 415.0 1206.0 414.3 1207.9 413.5 1209.7 412.7 1211.5 412.0 1213.4 411.1 1215.2 410.3 1217.0 409.5 1218.8 408.7 1220.7 407.8 1222.5 407.0 1224.3 406.2 1226.2 405.4 1228.0 404.7 1229.9 404.0 1231.8 403.3 1233.7 402.7 1235.6 402.1 1237.5 401.6 1239.5 401.2 1241.5 400.9 1243.5 400.7 1245.5 400.6 1247.5 400.6 1249.5 400.7 1251.4 400.9 1253.4 401.2 1255.4 401.6 1257.3 402.1 1259.3 402.6 1261.1 403.3 1263.0 404.0 1264.9 404.8 1266.7 405.6 1268.4 406.6 1270.2 407.6 1271.9 408.6 1273.6 409.7 1275.2 410.8 1276.8 412.0 1278.4 413.3 1279.9 414.6 1281.4 415.9 1282.9 417.2 1284.3 418.6 1285.7 420.1 1287.1 421.5 1288.4 423.0 1289.7 424.6 1290.9 426.1 1292.1 427.7 1293.3 429.4 1294.4 431.0 1295.5 432.7 1296.6 434.4 1297.6 436.1 1298.6 437.8 1299.6 439.6 1300.6 441.3 1301.5 443.1 1302.4 444.9 1303.2 446.7 1304.1 448.5 1304.9 450.3 1305.7 452.1 1306.5 454.0 1307.3 455.8 1308.1 457.7 1308.8 459.5 1309.6 461.4 1310.3 463.2 1311.0 465.1 1311.8 467.0 1312.5 468.8 1313.2 470.7 1313.9 472.6 1314.6 474.4 1315.3 476.3 1316.0 478.2 1316.7 480.1 1317.4 481.9 1318.1 483.8 1318.8 485.7 1319.5 487.6 1320.2 489.4 1320.9 491.3 1321.6 493.2 1322.3 495.1 1323.0 497.0 1323.6 498.8 1324.3 500.7 1325.0 502.6 1325.6 504.5 1326.3 506.4 1327.0 508.3 1327.6 510.2 1328.3 512.1 1329.0 513.9 1329.6 515.8 1330.3 517.7 1330.9 519.6 1331.6 521.5 1332.2 523.4 1332.8 525.3 1333.5 527.2 1334.1 529.1 1334.8 531.0 1335.4 532.9 1336.0 534.8 1336.7 536.7 1337.3 538.6 1337.9 540.5 1338.5 542.4 1339.1 544.3 1339.8 546.2 1340.4 548.1 1341.0 550.0 1341.6 551.9 1342.2 553.8 1342.8 555.7 1343.4 557.6 1344.0 559.5 1344.6 561.4 1345.2 563.3 1345.8 565.3 1346.4 567.2 1347.0 569.1 1347.6 571.0 1348.2 572.9 1348.8 574.8 1349.4 576.7 1349.9 578.6 1350.5 580.6 1351.1 582.5 1351.7 584.4 1352.3 586.3 1352.8 588.2 1353.4 590.1 1354.0 592.1 1354.5 594.0 1355.1 595.9 1355.7 597.8 1356.2 599.7 1356.8 601.7 1357.4 603.6 1357.9 605.5 1358.5 607.4 1359.0 609.3 1359.6 611.3 1360.1 613.2 1360.7 615.1 1361.2 617.0 1361.8 619.0 1362.3 620.9 1362.9 622.8 1363.4 624.7 1364.0 626.7 1364.5 628.6 1365.0 630.5 1365.6 632.4 1366.1 634.4 1366.6 636.3 1367.2 638.2 1367.7 640.2 1368.2 642.1 1368.8 644.0 1369.3 645.9 1369.8 647.9 1370.3 649.8 1370.9 651.7 1371.4 653.7 1371.9 655.6 1372.4 657.5 1373.0 659.5 1373.5 661.4 1374.0 663.3 1374.5 665.3 1375.0 667.2 1375.5 669.1 1376.0 671.1 1376.6 673.0 1377.1 674.9 1377.6 676.9 1378.1 678.8 1378.6 680.7 1379.1 682.7 1379.6 684.6 1380.1 686.5 1380.6 688.5 1381.1 690.4 1381.6 692.3 1382.1 694.3 1382.7 696.2 1383.2 698.2 1383.7 700.1 1384.2 702.0 1384.7 704.0 1385.2 705.9 1385.7 707.8 1386.2 709.8 1386.7 711.7 1387.2 713.7 1387.7 715.6 1388.2 717.5 1388.7 719.5 1389.2 721.4 1389.7 723.3 1390.2 725.3 1390.7 727.2 1391.1 729.2 1391.6 731.1 1392.1 733.0 1392.6 735.0 1393.1 736.9 1393.6 738.8 1394.1 740.8 1394.6 742.7 1395.1 744.7 1395.6 746.6 1396.1 748.5 1396.6 750.5 1397.1 752.4 1397.6 754.3 1398.1 756.3 1398.6 758.2 1399.1 760.2 1399.6 762.1 1400.1 764.0 1400.6 766.0 1401.1 767.9 1401.6 769.8 1402.1 771.8 1402.6 773.7 1403.1 775.7 1403.6 777.6 1404.1 779.5 1404.6 781.5 1405.1 783.4 1405.6 785.3 1406.1 787.3 1406.6 789.2 1407.1 791.2 1407.6 793.1 1408.1 795.0 1408.6 797.0 1409.1 798.9 1409.6 800.8 1410.2 802.8 1410.7 804.7 1411.2 806.6 1411.7 808.6 1412.2 810.5 1412.7 812.4 1413.2 814.4 1413.7 816.3 1414.3 818.2 1414.8 820.2 1415.3 822.1 1415.8 824.0 1416.3 826.0 1416.8 827.9 1417.4 829.8 1417.9 831.8 1418.4 833.7 1418.9 835.6 1419.5 837.6 1420.0 839.5 1420.5 841.4 1421.1 843.3 1421.6 845.3 1422.1 847.2 1422.6 849.1 1423.2 851.1 1423.7 853.0 1424.3 854.9 1424.8 856.8 1425.3 858.8 1425.9 860.7 1426.4 862.6 1427.0 864.5 1427.5 866.5 1428.1 868.4 1428.6 870.3 1429.2 872.2 1429.7 874.2 1430.3 876.1 1430.8 878.0 1431.4 879.9 1432.0 881.8 1432.5 883.8 1433.1 885.7 1433.7 887.6 1434.2 889.5 1434.8 891.4 1435.4 893.4 1435.9 895.3 1436.5 897.2 1437.1 899.1 1437.7 901.0 1438.2 902.9 1438.8 904.8 1439.4 906.8 1440.0 908.7 1440.6 910.6 1441.2 912.5 1441.8 914.4 1442.4 916.3 1443.0 918.2 1443.6 920.1 1444.2 922.0 1444.8 923.9 1445.4 925.9 1446.0 927.8 1446.6 929.7 1447.2 931.6 1447.9 933.5 1448.5 935.4 1449.1 937.3 1449.7 939.2 1450.4 941.1 1451.0 943.0 1451.6 944.9 1452.2 946.8 1452.9 948.7 1453.5 950.6 1454.2 952.5 1454.8 954.4 1455.5 956.2 1456.1 958.1 1456.8 960.0 1457.4 961.9 1458.1 963.8 1458.7 965.7 1459.4 967.6 1460.1 969.5 1460.8 971.3 1461.4 973.2 1462.1 975.1 1462.8 977.0 1463.5 978.9 1464.2 980.8 1464.8 982.6 1465.5 984.5 1466.2 986.4 1466.9 988.3 1467.6 990.1 1468.3 992.0 1469.0 993.9 1469.8 995.8 1470.5 997.6 1471.2 999.5 1471.9 1001.4 1472.6 1003.2 1473.4 1005.1 1474.1 1006.9 1474.8 1008.8 1475.6 1010.7 1476.3 1012.5 1477.0 1014.4 1477.8 1016.2 1478.5 1018.1 1479.3 1019.9 1480.1 1021.8 1480.8 1023.6 1481.6 1025.5 1482.4 1027.3 1483.1 1029.2 1483.9 1031.0 1484.7 1032.9 1485.5 1034.7 1486.3 1036.6 1487.1 1038.4 1487.8 1040.2 1488.6 1042.1 1489.4 1043.9 1490.3 1045.7 1491.1 1047.6 1491.9 1049.4 1492.7 1051.2 1493.5 1053.0 1494.3 1054.9 1495.2 1056.7 1496.0 1058.5 1496.8 1060.3 1497.7 1062.1 1498.5 1063.9 1499.4 1065.8 1500.2 1067.6 1501.1 1069.4 1502.0 1071.2 1502.8 1073.0 1503.7 1074.8 1504.6 1076.6 1505.4 1078.4 1506.3 1080.2 1507.2 1082.0 1508.1 1083.8 1509.0 1085.5 1509.9 1087.3 1510.8 1089.1 1511.7 1090.9 1512.6 1092.7 1513.5 1094.5 1514.5 1096.2 1515.4 1098.0 1516.3 1099.8 1517.2 1101.6 1518.2 1103.3 1519.1 1105.1 1520.1 1106.9 1521.0 1108.6 1522.0 1110.4 1522.9 1112.1 1523.9 1113.9 1524.9 1115.6 1525.8 1117.4 1526.8 1119.1 1527.8 1120.9 1528.8 1122.6 1529.8 1124.4 1530.8 1126.1 1531.8 1127.8 1532.8 1129.6 1533.8 1131.3 1534.8 1133.0 1535.8 1134.7 1536.8 1136.5 1537.8 1138.2 1538.9 1139.9 1539.9 1141.6 1540.9 1143.3 1542.0 1145.0 1543.0 1146.7 1544.1 1148.4 1545.1 1150.1 1546.2 1151.8 1547.3 1153.5 1548.3 1155.2 1549.4 1156.9 1550.5 1158.6 1551.6 1160.3 1552.7 1161.9 1553.8 1163.6 1554.9 1165.3 1556.0 1166.9 1557.1 1168.6 1558.2 1170.3 1559.3 1171.9 1560.4 1173.6 1561.6 1175.2 1562.7 1176.9 1563.8 1178.5 1565.0 1180.2 1566.1 1181.8 1567.3 1183.5 1568.4 1185.1 1569.6 1186.7 1570.7 1188.4 1571.9 1190.0 1573.1 1191.6 1574.3 1193.2 1575.4 1194.8 1576.6 1196.4 1577.8 1198.0 1579.0 1199.7 1580.2 1201.2 1581.4 1202.8 1582.6 1204.4 1583.9 1206.0 1585.1 1207.6 1586.3 1209.2 1587.5 1210.8 1588.8 1212.3 1590.0 1213.9 1591.3 1215.5 1592.5 1217.0 1593.8 1218.6 1595.0 1220.1 1596.3 1221.7 1597.6 1223.2 1598.8 1224.8 1600.1 1226.3 1601.4 1227.8 1602.7 1229.4 1604.0 1230.9 1605.3 1232.4 1606.6 1233.9 1607.9 1235.4 1609.2 1237.0 1610.6 1238.5 1611.9 1240.0 1613.2 1241.5 1614.5 1242.9 1615.9 1244.4 1617.2 1245.9 1618.6 1247.4 1619.9 1248.9 1621.3 1250.3 1622.7 1251.8 1624.0 1253.2 1625.4 1254.7 1626.8 1256.1 1628.2 1257.6 1629.6 1259.0 1631.0 1260.5 1632.4 1261.9 1633.8 1263.3 1635.2 1264.7 1636.6 1266.2 1638.0 1267.6 1639.4 1269.0 1640.9 1270.4 1642.3 1271.8 1643.7 1273.1 1645.2 1274.5 1646.6 1275.9 1648.1 1277.3 1649.5 1278.7 1651.0 1280.0 1652.5 1281.4 1654.0 1282.7 1655.4 1284.1 1656.9 1285.4 1658.4 1286.8 1659.9 1288.1 1661.4 1289.4 1662.9 1290.7 1664.4 1292.0 1665.9 1293.3 1667.4 1294.7 1669.0 1295.9 1670.5 1297.2 1672.0 1298.5 1673.6 1299.8 1675.1 1301.1 1676.7 1302.3 1678.2 1303.6 1679.8 1304.9 1681.3 1306.1 1682.9 1307.4 1684.5 1308.6 1686.0 1309.8 1687.6 1311.1 1689.2 1312.3 1690.8 1313.5 1692.4 1314.7 1694.0 1315.9 1695.6 1317.1 1697.2 1318.3 1698.8 1319.5 1700.4 1320.6 1702.1 1321.8 1703.7 1323.0 1705.3 1324.1 1707.0 1325.3 1708.6 1326.4 1710.3 1327.6 1711.9 1328.7 1713.6 1329.8 1715.2 1330.9 1716.9 1332.0 1718.6 1333.1 1720.2 1334.2 1721.9 1335.3 1723.6 1336.4 1725.3 1337.5 1727.0 1338.6 1728.7 1339.6 1730.4 1340.7 1732.1 1341.7 1733.8 1342.8 1735.5 1343.8 1737.2 1344.8 1738.9 1345.9 1740.6 1346.9 1742.4 1347.9 1744.1 1348.9 1745.8 1349.9 1747.6 1350.9 1749.3 1351.8 1751.1 1352.8 1752.8 1353.8 1754.6 1354.7 1756.3 1355.7 1758.1 1356.6 1759.9 1357.6 1761.6 1358.5 1763.4 1359.4 1765.2 1360.3 1767.0 1361.2" stroke="#000" stroke-width="7.5" stroke-dasharray="42.00 44.81" stroke-dashoffset="36.05"/>
<g fill="#000"><rect x="287.6" y="1362.8" width="7" height="7" rx="1.6"/><rect x="289.3" y="1345.6" width="7" height="7" rx="1.6"/><rect x="291.1" y="1328.4" width="7" height="7" rx="1.6"/><rect x="292.7" y="1311.2" width="7" height="7" rx="1.6"/><rect x="294.4" y="1294.0" width="7" height="7" rx="1.6"/><rect x="296.0" y="1276.8" width="7" height="7" rx="1.6"/><rect x="297.7" y="1259.6" width="7" height="7" rx="1.6"/><rect x="299.2" y="1242.4" width="7" height="7" rx="1.6"/><rect x="300.8" y="1225.2" width="7" height="7" rx="1.6"/><rect x="302.4" y="1208.0" width="7" height="7" rx="1.6"/><rect x="303.9" y="1190.8" width="7" height="7" rx="1.6"/><rect x="305.4" y="1173.6" width="7" height="7" rx="1.6"/><rect x="306.9" y="1156.4" width="7" height="7" rx="1.6"/><rect x="308.3" y="1139.2" width="7" height="7" rx="1.6"/><rect x="309.8" y="1121.9" width="7" height="7" rx="1.6"/><rect x="311.2" y="1104.7" width="7" height="7" rx="1.6"/><rect x="312.6" y="1087.5" width="7" height="7" rx="1.6"/><rect x="314.0" y="1070.3" width="7" height="7" rx="1.6"/><rect x="315.4" y="1053.1" width="7" height="7" rx="1.6"/><rect x="316.8" y="1035.9" width="7" height="7" rx="1.6"/><rect x="318.2" y="1018.6" width="7" height="7" rx="1.6"/><rect x="319.5" y="1001.4" width="7" height="7" rx="1.6"/><rect x="320.9" y="984.2" width="7" height="7" rx="1.6"/><rect x="322.2" y="967.0" width="7" height="7" rx="1.6"/><rect x="323.6" y="949.7" width="7" height="7" rx="1.6"/><rect x="324.9" y="932.5" width="7" height="7" rx="1.6"/><rect x="326.2" y="915.3" width="7" height="7" rx="1.6"/><rect x="327.5" y="898.1" width="7" height="7" rx="1.6"/><rect x="328.8" y="880.8" width="7" height="7" rx="1.6"/><rect x="330.1" y="863.6" width="7" height="7" rx="1.6"/><rect x="331.4" y="846.4" width="7" height="7" rx="1.6"/><rect x="332.6" y="829.2" width="7" height="7" rx="1.6"/><rect x="333.9" y="811.9" width="7" height="7" rx="1.6"/><rect x="335.2" y="794.7" width="7" height="7" rx="1.6"/><rect x="336.4" y="777.5" width="7" height="7" rx="1.6"/><rect x="337.7" y="760.2" width="7" height="7" rx="1.6"/><rect x="338.9" y="743.0" width="7" height="7" rx="1.6"/><rect x="340.2" y="725.8" width="7" height="7" rx="1.6"/><rect x="341.4" y="708.6" width="7" height="7" rx="1.6"/><rect x="342.7" y="691.3" width="7" height="7" rx="1.6"/><rect x="343.9" y="674.1" width="7" height="7" rx="1.6"/><rect x="345.2" y="656.9" width="7" height="7" rx="1.6"/><rect x="346.4" y="639.6" width="7" height="7" rx="1.6"/><rect x="347.7" y="622.4" width="7" height="7" rx="1.6"/><rect x="349.0" y="605.2" width="7" height="7" rx="1.6"/><rect x="350.3" y="588.0" width="7" height="7" rx="1.6"/><rect x="351.7" y="570.7" width="7" height="7" rx="1.6"/><rect x="353.0" y="553.5" width="7" height="7" rx="1.6"/><rect x="354.4" y="536.3" width="7" height="7" rx="1.6"/><rect x="355.9" y="519.1" width="7" height="7" rx="1.6"/><rect x="357.3" y="501.9" width="7" height="7" rx="1.6"/><rect x="358.9" y="484.7" width="7" height="7" rx="1.6"/><rect x="360.5" y="467.5" width="7" height="7" rx="1.6"/><rect x="362.1" y="450.3" width="7" height="7" rx="1.6"/><rect x="363.9" y="433.1" width="7" height="7" rx="1.6"/><rect x="365.8" y="415.9" width="7" height="7" rx="1.6"/><rect x="367.7" y="398.8" width="7" height="7" rx="1.6"/><rect x="369.8" y="381.6" width="7" height="7" rx="1.6"/><rect x="372.1" y="364.5" width="7" height="7" rx="1.6"/><rect x="374.5" y="347.4" width="7" height="7" rx="1.6"/><rect x="378.5" y="330.6" width="7" height="7" rx="1.6"/><rect x="390.2" y="320.8" width="7" height="7" rx="1.6"/><rect x="393.5" y="336.8" width="7" height="7" rx="1.6"/><rect x="395.5" y="353.9" width="7" height="7" rx="1.6"/><rect x="398.5" y="370.9" width="7" height="7" rx="1.6"/><rect x="401.5" y="388.0" width="7" height="7" rx="1.6"/><rect x="403.9" y="405.0" width="7" height="7" rx="1.6"/><rect x="406.1" y="422.2" width="7" height="7" rx="1.6"/><rect x="407.9" y="439.3" width="7" height="7" rx="1.6"/><rect x="409.5" y="456.5" width="7" height="7" rx="1.6"/><rect x="410.9" y="473.7" width="7" height="7" rx="1.6"/><rect x="412.3" y="491.0" width="7" height="7" rx="1.6"/><rect x="413.5" y="508.2" width="7" height="7" rx="1.6"/><rect x="414.8" y="525.4" width="7" height="7" rx="1.6"/><rect x="416.2" y="542.6" width="7" height="7" rx="1.6"/><rect x="417.6" y="559.8" width="7" height="7" rx="1.6"/><rect x="419.0" y="577.0" width="7" height="7" rx="1.6"/><rect x="420.5" y="594.2" width="7" height="7" rx="1.6"/><rect x="421.9" y="611.4" width="7" height="7" rx="1.6"/><rect x="423.4" y="628.6" width="7" height="7" rx="1.6"/><rect x="424.9" y="645.8" width="7" height="7" rx="1.6"/><rect x="426.4" y="663.0" width="7" height="7" rx="1.6"/><rect x="427.9" y="680.2" width="7" height="7" rx="1.6"/><rect x="429.3" y="697.4" width="7" height="7" rx="1.6"/><rect x="430.7" y="714.6" width="7" height="7" rx="1.6"/><rect x="432.1" y="731.9" width="7" height="7" rx="1.6"/><rect x="433.5" y="749.1" width="7" height="7" rx="1.6"/><rect x="434.9" y="766.3" width="7" height="7" rx="1.6"/><rect x="436.4" y="783.5" width="7" height="7" rx="1.6"/><rect x="437.9" y="800.7" width="7" height="7" rx="1.6"/><rect x="439.5" y="817.9" width="7" height="7" rx="1.6"/><rect x="441.3" y="835.0" width="7" height="7" rx="1.6"/><rect x="443.1" y="852.2" width="7" height="7" rx="1.6"/><rect x="445.2" y="869.4" width="7" height="7" rx="1.6"/><rect x="447.4" y="886.5" width="7" height="7" rx="1.6"/><rect x="449.7" y="903.6" width="7" height="7" rx="1.6"/><rect x="452.3" y="920.6" width="7" height="7" rx="1.6"/><rect x="455.2" y="937.7" width="7" height="7" rx="1.6"/><rect x="458.4" y="954.6" width="7" height="7" rx="1.6"/><rect x="463.2" y="971.2" width="7" height="7" rx="1.6"/><rect x="471.0" y="986.6" width="7" height="7" rx="1.6"/><rect x="482.0" y="999.8" width="7" height="7" rx="1.6"/><rect x="493.6" y="1012.6" width="7" height="7" rx="1.6"/><rect x="503.5" y="1026.8" width="7" height="7" rx="1.6"/><rect x="511.4" y="1042.1" width="7" height="7" rx="1.6"/><rect x="517.6" y="1058.2" width="7" height="7" rx="1.6"/><rect x="522.5" y="1074.8" width="7" height="7" rx="1.6"/><rect x="526.3" y="1091.6" width="7" height="7" rx="1.6"/><rect x="529.5" y="1108.6" width="7" height="7" rx="1.6"/><rect x="532.3" y="1125.6" width="7" height="7" rx="1.6"/><rect x="535.2" y="1142.6" width="7" height="7" rx="1.6"/><rect x="538.4" y="1159.6" width="7" height="7" rx="1.6"/><rect x="542.2" y="1176.2" width="7" height="7" rx="1.6"/><rect x="546.4" y="1193.0" width="7" height="7" rx="1.6"/><rect x="550.9" y="1209.7" width="7" height="7" rx="1.6"/><rect x="555.3" y="1226.4" width="7" height="7" rx="1.6"/><rect x="559.5" y="1243.2" width="7" height="7" rx="1.6"/><rect x="563.6" y="1260.0" width="7" height="7" rx="1.6"/><rect x="569.2" y="1276.4" width="7" height="7" rx="1.6"/><rect x="578.5" y="1290.9" width="7" height="7" rx="1.6"/><rect x="592.2" y="1301.3" width="7" height="7" rx="1.6"/><rect x="608.3" y="1307.5" width="7" height="7" rx="1.6"/><rect x="625.5" y="1308.8" width="7" height="7" rx="1.6"/><rect x="642.5" y="1305.9" width="7" height="7" rx="1.6"/><rect x="658.9" y="1300.3" width="7" height="7" rx="1.6"/><rect x="674.8" y="1293.6" width="7" height="7" rx="1.6"/><rect x="690.8" y="1286.9" width="7" height="7" rx="1.6"/><rect x="707.1" y="1281.1" width="7" height="7" rx="1.6"/><rect x="723.8" y="1276.5" width="7" height="7" rx="1.6"/><rect x="740.7" y="1273.1" width="7" height="7" rx="1.6"/><rect x="757.9" y="1271.2" width="7" height="7" rx="1.6"/><rect x="775.2" y="1270.8" width="7" height="7" rx="1.6"/><rect x="792.5" y="1271.8" width="7" height="7" rx="1.6"/><rect x="809.7" y="1274.1" width="7" height="7" rx="1.6"/><rect x="826.6" y="1277.3" width="7" height="7" rx="1.6"/><rect x="843.5" y="1281.5" width="7" height="7" rx="1.6"/><rect x="860.1" y="1286.2" width="7" height="7" rx="1.6"/><rect x="876.6" y="1291.5" width="7" height="7" rx="1.6"/><rect x="892.9" y="1297.1" width="7" height="7" rx="1.6"/><rect x="909.2" y="1303.0" width="7" height="7" rx="1.6"/><rect x="925.5" y="1308.9" width="7" height="7" rx="1.6"/><rect x="941.7" y="1315.0" width="7" height="7" rx="1.6"/><rect x="957.8" y="1321.4" width="7" height="7" rx="1.6"/><rect x="973.8" y="1328.0" width="7" height="7" rx="1.6"/><rect x="989.6" y="1335.0" width="7" height="7" rx="1.6"/><rect x="1005.2" y="1342.4" width="7" height="7" rx="1.6"/><rect x="1020.6" y="1350.3" width="7" height="7" rx="1.6"/><rect x="1035.7" y="1358.8" width="7" height="7" rx="1.6"/><rect x="1050.4" y="1367.9" width="7" height="7" rx="1.6"/></g>
</g>
<text transform="translate(388.9 290.5) scale(0.9 1)" text-anchor="middle" font-size="61">a</text>
<text x="509.5" y="825.5" text-anchor="middle" font-size="61">b</text>
<text x="798" y="1073.5" text-anchor="middle" font-size="61">c</text>
<line x1="510" y1="844" x2="506.3" y2="945" stroke="#000" stroke-width="4.5"/>
<path d="M499 941.5 L513 941.5 L506 989.5 Z"/>
<line x1="796.8" y1="1102.4" x2="793" y2="1203" stroke="#000" stroke-width="4.5"/>
<path d="M785 1200 L801.5 1200 L790.6 1243 Z"/>
<rect x="189" y="1373.5" width="1794" height="8.0"/>
<rect x="189.7" y="1380.5" width="7.6" height="8.8"/>
<rect x="228.0" y="1380.5" width="7.6" height="8.8"/>
<rect x="257.7" y="1380.5" width="7.6" height="8.8"/>
<rect x="281.9" y="1380.5" width="7.6" height="8.8"/>
<rect x="302.5" y="1380.5" width="7.6" height="8.8"/>
<rect x="320.2" y="1380.5" width="7.6" height="8.8"/>
<rect x="335.9" y="1380.5" width="7.6" height="8.8"/>
<rect x="349.9" y="1380.5" width="7.6" height="20.0"/>
<rect x="442.1" y="1380.5" width="7.6" height="8.8"/>
<rect x="496.0" y="1380.5" width="7.6" height="8.8"/>
<rect x="534.3" y="1380.5" width="7.6" height="8.8"/>
<rect x="564.0" y="1380.5" width="7.6" height="8.8"/>
<rect x="588.2" y="1380.5" width="7.6" height="8.8"/>
<rect x="608.8" y="1380.5" width="7.6" height="8.8"/>
<rect x="626.5" y="1380.5" width="7.6" height="8.8"/>
<rect x="642.2" y="1380.5" width="7.6" height="8.8"/>
<rect x="656.2" y="1380.5" width="7.6" height="20.0"/>
<rect x="748.4" y="1380.5" width="7.6" height="8.8"/>
<rect x="802.3" y="1380.5" width="7.6" height="8.8"/>
<rect x="840.6" y="1380.5" width="7.6" height="8.8"/>
<rect x="870.3" y="1380.5" width="7.6" height="8.8"/>
<rect x="894.5" y="1380.5" width="7.6" height="8.8"/>
<rect x="915.1" y="1380.5" width="7.6" height="8.8"/>
<rect x="932.8" y="1380.5" width="7.6" height="8.8"/>
<rect x="948.5" y="1380.5" width="7.6" height="8.8"/>
<rect x="962.5" y="1380.5" width="7.6" height="20.0"/>
<rect x="1054.7" y="1380.5" width="7.6" height="8.8"/>
<rect x="1108.6" y="1380.5" width="7.6" height="8.8"/>
<rect x="1146.9" y="1380.5" width="7.6" height="8.8"/>
<rect x="1176.6" y="1380.5" width="7.6" height="8.8"/>
<rect x="1200.8" y="1380.5" width="7.6" height="8.8"/>
<rect x="1221.4" y="1380.5" width="7.6" height="8.8"/>
<rect x="1239.1" y="1380.5" width="7.6" height="8.8"/>
<rect x="1254.8" y="1380.5" width="7.6" height="8.8"/>
<rect x="1268.8" y="1380.5" width="7.6" height="20.0"/>
<rect x="1361.0" y="1380.5" width="7.6" height="8.8"/>
<rect x="1414.9" y="1380.5" width="7.6" height="8.8"/>
<rect x="1453.2" y="1380.5" width="7.6" height="8.8"/>
<rect x="1482.9" y="1380.5" width="7.6" height="8.8"/>
<rect x="1507.1" y="1380.5" width="7.6" height="8.8"/>
<rect x="1527.7" y="1380.5" width="7.6" height="8.8"/>
<rect x="1545.4" y="1380.5" width="7.6" height="8.8"/>
<rect x="1561.1" y="1380.5" width="7.6" height="8.8"/>
<rect x="1575.1" y="1380.5" width="7.6" height="20.0"/>
<rect x="1667.3" y="1380.5" width="7.6" height="8.8"/>
<rect x="1721.2" y="1380.5" width="7.6" height="8.8"/>
<rect x="1759.5" y="1380.5" width="7.6" height="8.8"/>
<rect x="1789.2" y="1380.5" width="7.6" height="8.8"/>
<rect x="1813.4" y="1380.5" width="7.6" height="8.8"/>
<rect x="1834.0" y="1380.5" width="7.6" height="8.8"/>
<rect x="1851.7" y="1380.5" width="7.6" height="8.8"/>
<rect x="1867.4" y="1380.5" width="7.6" height="8.8"/>
<rect x="1881.4" y="1380.5" width="7.6" height="20.0"/>
<rect x="1973.6" y="1380.5" width="7.6" height="8.8"/>
<text x="353.7" y="1478" text-anchor="middle" font-size="66">10<tspan dy="-29" font-size="44">2</tspan></text>
<text x="660.0" y="1478" text-anchor="middle" font-size="66">10<tspan dy="-29" font-size="44">3</tspan></text>
<text x="966.3" y="1478" text-anchor="middle" font-size="66">10<tspan dy="-29" font-size="44">4</tspan></text>
<text x="1272.6" y="1478" text-anchor="middle" font-size="66">10<tspan dy="-29" font-size="44">5</tspan></text>
<text x="1578.9" y="1478" text-anchor="middle" font-size="66">10<tspan dy="-29" font-size="44">6</tspan></text>
<text x="1885.2" y="1478" text-anchor="middle" font-size="66">10<tspan dy="-29" font-size="44">7</tspan></text>
<text x="652.2" y="1597" font-size="72.3">molecular weight/ g mol<tspan dy="-30.5" font-size="47">-1</tspan></text>
<text transform="translate(84.6 759.3) rotate(-90)" text-anchor="middle" font-size="72">RI signal</text>
</g>
</svg>
</body></html>
